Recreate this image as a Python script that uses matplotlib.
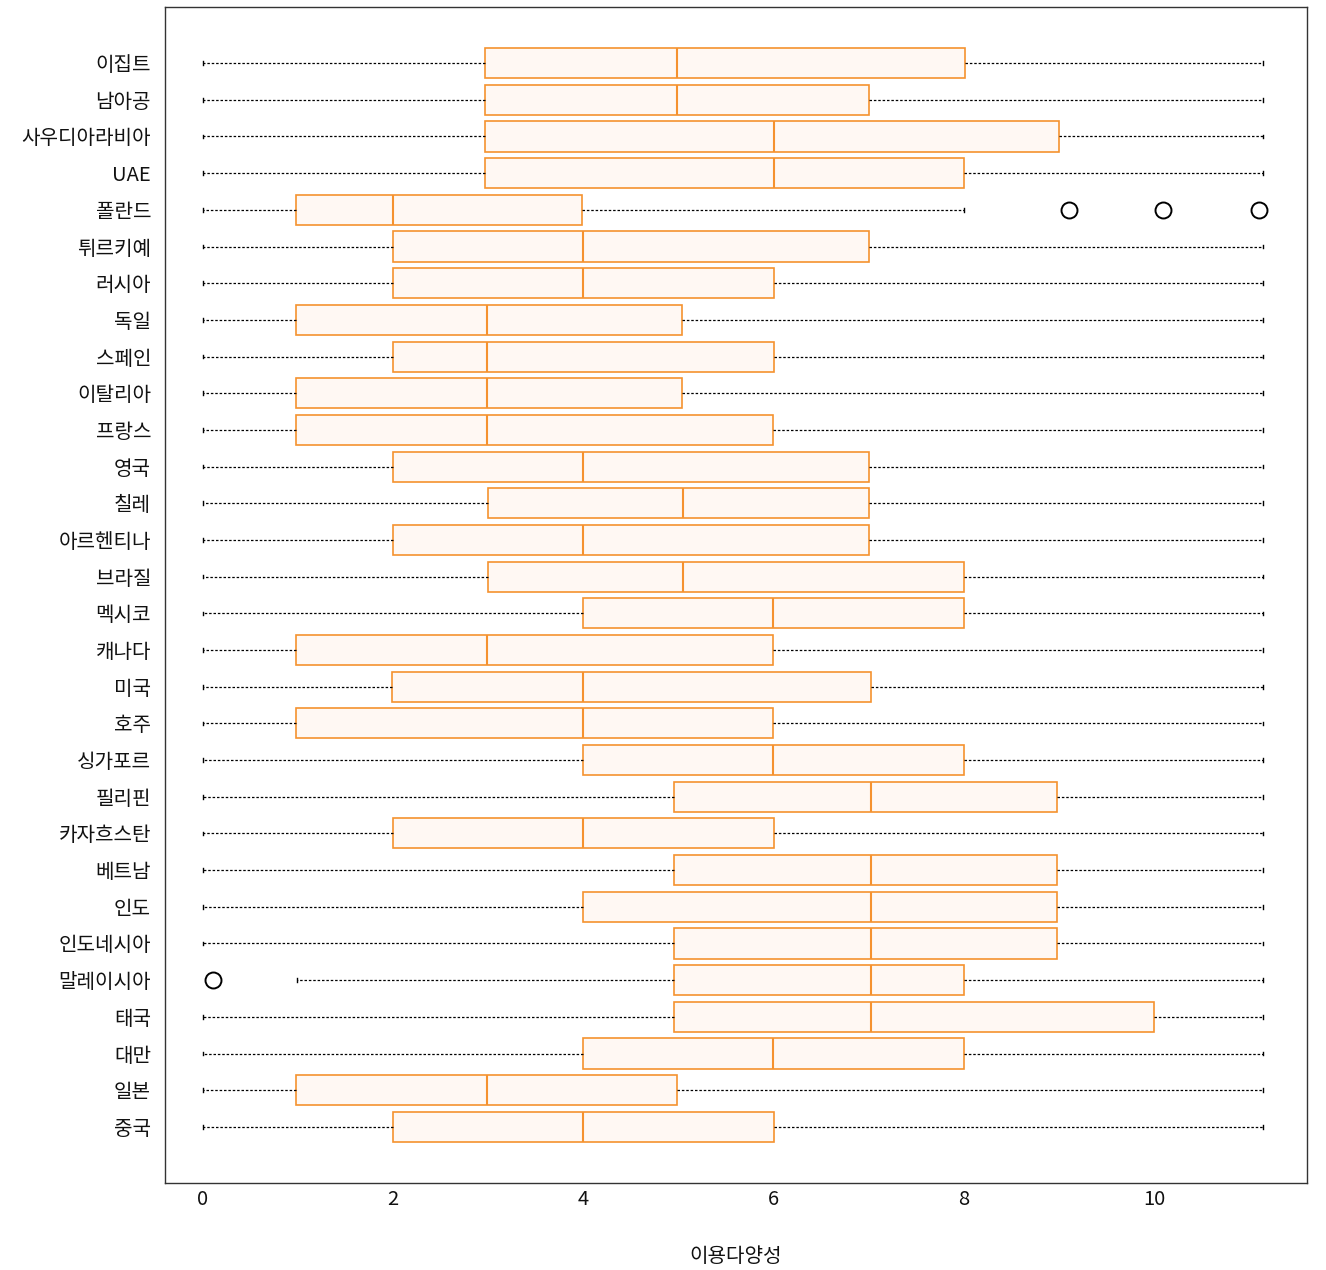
import matplotlib
matplotlib.use("Agg")
import matplotlib.pyplot as plt

plt.rcParams['font.family'] = ['Noto Sans CJK KR', 'DejaVu Sans']

countries = ["이집트", "남아공", "사우디아라비아", "UAE", "폴란드", "튀르키예", "러시아", "독일",
             "스페인", "이탈리아", "프랑스", "영국", "칠레", "아르헨티나", "브라질", "멕시코",
             "캐나다", "미국", "호주", "싱가포르", "필리핀", "카자흐스탄", "베트남", "인도",
             "인도네시아", "말레이시아", "태국", "대만", "일본", "중국"]

q1 = [2.97, 2.97, 2.97, 2.97, 0.98, 2.0, 2.0, 0.98, 2.0, 0.98, 0.98, 2.0, 3.0, 2.0, 3.0, 4.0,
      0.98, 1.99, 0.98, 4.0, 4.95, 2.0, 4.95, 4.0, 4.95, 4.95, 4.95, 4.0, 0.98, 2.0]
med = [4.98, 4.98, 6.0, 6.0, 2.0, 4.0, 4.0, 2.99, 2.99, 2.99, 2.99, 4.0, 5.05, 4.0, 5.05, 5.99,
       2.99, 4.0, 4.0, 5.99, 7.02, 4.0, 7.02, 7.02, 7.02, 7.02, 7.02, 5.99, 2.99, 4.0]
q3 = [8.01, 7.0, 9.0, 8.0, 3.99, 7.0, 6.0, 5.04, 6.0, 5.04, 5.99, 7.0, 7.0, 7.0, 8.0, 8.0,
      5.99, 7.02, 5.99, 8.0, 8.98, 6.0, 8.98, 8.98, 8.98, 8.0, 10.0, 8.0, 4.98, 6.0]
whis_lo = [0, 0, 0, 0, 0, 0, 0, 0, 0, 0, 0, 0, 0, 0, 0, 0,
           0, 0, 0, 0, 0, 0, 0, 0, 0, 0.99, 0, 0, 0, 0]
whis_hi = [11.15, 11.15, 11.15, 11.15, 8.0, 11.15, 11.15, 11.15, 11.15, 11.15, 11.15, 11.15,
           11.15, 11.15, 11.15, 11.15, 11.15, 11.15, 11.15, 11.15, 11.15, 11.15, 11.15, 11.15,
           11.15, 11.15, 11.15, 11.15, 11.15, 11.15]
outliers = {"폴란드": [9.11, 10.1, 11.1], "말레이시아": [0.1]}

xticks = [0, 2, 4, 6, 8, 10]
xlabel = "이용다양성"

edge = "#F5922F"
fill = "#FFF8F3"

stats = []
for i, c in enumerate(countries):
    stats.append(dict(label=c, q1=q1[i], med=med[i], q3=q3[i],
                      whislo=whis_lo[i], whishi=whis_hi[i],
                      fliers=outliers.get(c, [])))

fig = plt.figure(figsize=(13.26, 12.7), dpi=100)
ax = fig.add_axes([165/1326, 1-1183/1270, (1307-165)/1326, (1183-7)/1270])

positions = list(range(len(countries)))
ax.bxp(stats, positions=positions, vert=False, widths=0.82, patch_artist=True,
       boxprops=dict(facecolor=fill, edgecolor=edge, linewidth=1.2),
       medianprops=dict(color=edge, linewidth=1.5),
       whiskerprops=dict(color="black", linestyle=(0, (2, 1.5)), linewidth=0.9),
       capprops=dict(color="black", linewidth=1.0),
       capwidths=0.1,
       flierprops=dict(marker="o", markerfacecolor="none", markeredgecolor="black",
                       markersize=11.5, markeredgewidth=1.4))

n = len(countries)
ax.set_xlim(-0.40, 11.61)
ax.set_ylim(n - 1 + 1.53, -1.53)
ax.set_yticks(positions)
ax.set_yticklabels(countries, fontsize=14.5, color="#111111", fontweight="medium")
ax.set_xticks(xticks)
ax.set_xticklabels([str(t) for t in xticks], fontsize=14.5, color="#111111", fontweight="medium")
ax.tick_params(axis="both", length=0)
ax.tick_params(axis="x", pad=4)
ax.tick_params(axis="y", pad=10)
ax.set_xlabel(xlabel, fontsize=14.5, color="#111111", fontweight="medium", labelpad=26)
for s in ax.spines.values():
    s.set_color("#333333")
    s.set_linewidth(1.0)

fig.savefig("out.png", dpi=100)
